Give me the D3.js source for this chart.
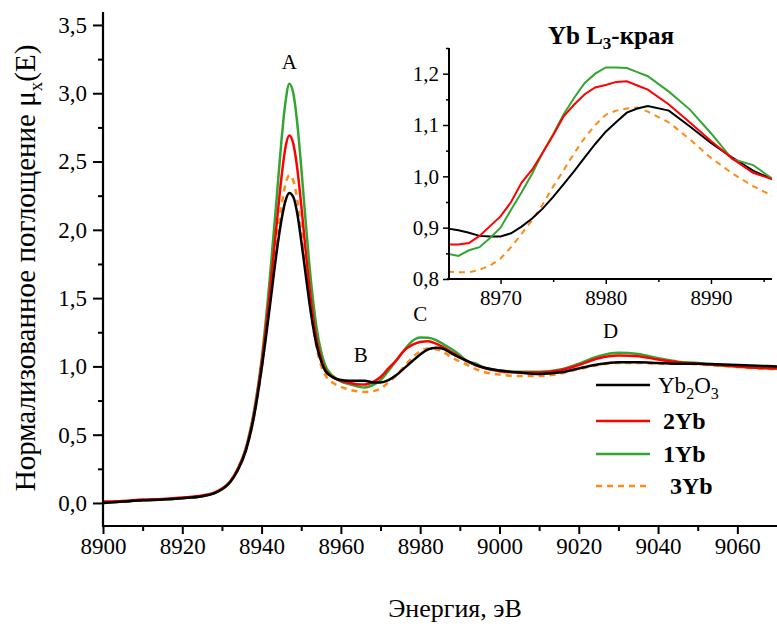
<!DOCTYPE html>
<html>
<head>
<meta charset="utf-8">
<script src="https://cdn.jsdelivr.net/npm/d3@7"></script>
<style>
  html, body { margin: 0; padding: 0; background: #fff; }
  svg { display: block; }
  svg text { font-family: "Liberation Serif", "Times New Roman", Times, "DejaVu Serif", serif !important; fill: #000; }
</style>
</head>
<body>
<svg id="chart" width="777" height="629"></svg>
<script>
// Energy grid of the XANES spectra, eV
const energy = [8900,8905,8910,8915,8920,8925,8928,8930,8932,8934,8936,8938,
  8940,8942,8944,8945,8946,8947,8948,8949,8950,8951,8952,8953,8954,8955,8956,
  8958,8960,8962,8964,8966,8968,8970,8972,8974,8976,8978,8980,8982,8984,8986,8988,8990,8992,8994,8996,
  9000,9005,9010,9015,9020,9025,9030,9035,9040,9045,9050,9055,9060,9065,9070];

const yb2o3 = [0.00,0.01,0.02,0.025,0.035,0.05, 0.07,0.10,0.15,0.24,0.38,0.62,
  0.98,1.42,1.88, 2.07,2.21,2.27,2.24,2.12,1.92,1.70,1.48,1.29,1.14,1.04,0.97,
  0.92,0.90,0.895,0.895,0.895,0.883,0.883,0.90,0.937,0.987,1.038,1.087,1.124,1.137,1.127,1.094,1.065,1.038,1.011,0.992,
  0.97,0.955,0.945,0.955,0.985,1.015,1.03,1.03,1.025,1.02,1.02,1.015,1.01,1.005,1.0];

const yb2 = [0.01,0.015,0.025,0.03,0.04,0.055, 0.075,0.105,0.155,0.25,0.39,0.64,
  1.02,1.52,2.10, 2.38,2.60,2.69,2.63,2.45,2.18,1.88,1.60,1.36,1.18,1.06,0.98,
  0.92,0.895,0.88,0.87,0.867,0.885,0.922,0.985,1.045,1.117,1.157,1.179,1.185,1.167,1.137,1.103,1.069,1.036,1.008,0.99,
  0.965,0.955,0.955,0.97,1.01,1.06,1.08,1.075,1.05,1.03,1.02,1.01,1.0,0.99,0.985];

const yb1 = [0.0,0.01,0.02,0.025,0.035,0.05, 0.07,0.10,0.15,0.25,0.40,0.66,
  1.05,1.62,2.30, 2.65,2.93,3.07,3.00,2.78,2.46,2.10,1.76,1.48,1.26,1.11,1.01,
  0.93,0.89,0.87,0.855,0.845,0.862,0.90,0.968,1.045,1.12,1.185,1.211,1.210,1.193,1.16,1.125,1.084,1.034,1.022,0.993,
  0.97,0.96,0.96,0.975,1.02,1.075,1.10,1.09,1.06,1.035,1.025,1.01,1.0,0.99,0.985];

const yb3 = [0.0,0.01,0.02,0.025,0.035,0.05, 0.07,0.10,0.15,0.24,0.38,0.62,
  0.98,1.45,1.95, 2.17,2.33,2.40,2.36,2.22,1.99,1.74,1.50,1.29,1.12,1.01,0.94,
  0.88,0.85,0.83,0.818,0.813,0.818,0.838,0.883,0.935,1.00,1.065,1.11,1.131,1.126,1.103,1.065,1.036,1.01,0.98,0.96,
  0.94,0.93,0.93,0.945,0.98,1.01,1.025,1.025,1.02,1.02,1.015,1.005,0.995,0.985,0.98];

// Close-up of the L3 white-line shoulder (peak C)
const insetEnergy = [8965,8966,8967,8968,8969,8970,8971,8972,8973,8974,8975,8976,8977,8978,8979,8980,8981,8982,8983,8984,8986,8988,8990,8992,8994,8996];
const insetYb2o3 = [0.898,0.895,0.89,0.884,0.883,0.883,0.889,0.902,0.918,0.937,0.96,0.985,1.01,1.037,1.063,1.087,1.106,1.124,1.132,1.137,1.128,1.097,1.065,1.037,1.011,0.993];
const insetYb2 = [0.867,0.867,0.870,0.884,0.903,0.922,0.95,0.988,1.013,1.046,1.08,1.117,1.14,1.16,1.173,1.178,1.184,1.185,1.177,1.169,1.14,1.105,1.069,1.035,1.007,0.993];
const insetYb1 = [0.849,0.845,0.856,0.862,0.88,0.9,0.935,0.969,1.005,1.046,1.082,1.121,1.153,1.182,1.2,1.212,1.212,1.211,1.203,1.195,1.165,1.13,1.084,1.034,1.022,0.993];
const insetYb3 = [0.814,0.813,0.813,0.818,0.826,0.84,0.862,0.888,0.915,0.945,0.98,1.012,1.045,1.075,1.1,1.12,1.128,1.132,1.134,1.126,1.105,1.072,1.036,1.006,0.981,0.96];

const seriesNames = ["Yb2O3", "2Yb", "1Yb", "3Yb"];
const seriesColors = ["#000000", "#ff0000", "#33a532", "#ff8a14"];
const xTicks = [8900,8920,8940,8960,8980,9000,9020,9040,9060];
const yTicks = [0,0.5,1.0,1.5,2.0,2.5,3.0,3.5];
const insetXTicks = [8970,8980,8990];
const insetYTicks = [0.8,0.9,1.0,1.1,1.2];
const peakLabels = [
  {t: "A", e: 8947, v: 3.18},
  {t: "B", e: 8965, v: 1.03},
  {t: "C", e: 8980, v: 1.33},
  {t: "D", e: 9028, v: 1.21}
];

const mainValues = [yb2o3, yb2, yb1, yb3];
const insetValues = [insetYb2o3, insetYb2, insetYb1, insetYb3];
const fmt = v => d3.format(".1f")(v).replace(".", ",");
const SERIF = "'Liberation Serif', 'Times New Roman', Times, 'DejaVu Serif', serif";

const svg = d3.select("#chart").style("font-family", SERIF);

// ---- main panel ----
const x = d3.scaleLinear().domain([8900, 9070]).range([103, 777]);
const y = d3.scaleLinear().domain([-0.17, 3.6]).range([526.2, 11.3]);

svg.append("clipPath").attr("id", "clipMain")
  .append("rect").attr("x", 103).attr("y", 0).attr("width", 674).attr("height", 526);

const line = d3.line().curve(d3.curveMonotoneX);

const gMain = svg.append("g").attr("clip-path", "url(#clipMain)");
[3, 2, 1, 0].forEach(i => {
  const pts = energy.map((e, k) => [x(e), y(mainValues[i][k])]);
  gMain.append("path")
    .attr("d", line(pts))
    .attr("fill", "none")
    .attr("stroke", seriesColors[i])
    .attr("stroke-width", 2.5)
    .attr("stroke-dasharray", i === 3 ? "6,5" : null)
    .attr("stroke-linejoin", "round");
});

function styleAxisText(g, size) {
  g.attr("font-family", SERIF);
  g.selectAll("text").style("font-size", size).style("font-family", SERIF);
}

// x axis (major + minor ticks)
const xAxisG = svg.append("g").attr("transform", "translate(0,526)");
xAxisG.append("g")
  .call(d3.axisBottom(x).tickValues(d3.range(8910, 9070, 20)).tickSize(5).tickFormat(""))
  .call(g => g.select(".domain").remove())
  .selectAll("line").attr("stroke-width", 2);
xAxisG.append("g")
  .call(d3.axisBottom(x).tickValues(xTicks).tickSize(8).tickPadding(4).tickFormat(d3.format("d")))
  .call(g => g.select(".domain").attr("stroke-width", 2.2).attr("d", "M103,0H777"))
  .call(g => g.selectAll("line").attr("stroke-width", 2))
  .call(g => styleAxisText(g, "23px"));

// y axis
const yAxisG = svg.append("g").attr("transform", "translate(103,0)");
yAxisG.append("g")
  .call(d3.axisLeft(y).tickValues([0.25,0.75,1.25,1.75,2.25,2.75,3.25]).tickSize(5).tickFormat(""))
  .call(g => g.select(".domain").remove())
  .selectAll("line").attr("stroke-width", 2);
yAxisG.append("g")
  .call(d3.axisLeft(y).tickValues(yTicks).tickSize(10).tickPadding(6).tickFormat(fmt))
  .call(g => g.select(".domain").attr("stroke-width", 2.2).attr("d", "M0,527V12"))
  .call(g => g.selectAll("line").attr("stroke-width", 2))
  .call(g => styleAxisText(g, "23px"));

// axis titles
svg.append("text")
  .attr("x", 455).attr("y", 617)
  .attr("text-anchor", "middle")
  .style("font-size", "26px")
  .text("Энергия, эВ");

const yTitle = svg.append("text")
  .attr("transform", "translate(35,268) rotate(-90)")
  .attr("text-anchor", "middle")
  .style("font-size", "29px");
yTitle.append("tspan").text("Нормализованное поглощение μ");
yTitle.append("tspan").attr("dy", 7).style("font-size", "19px").text("x");
yTitle.append("tspan").attr("dy", -7).text("(E)");

// peak letters
svg.append("g").selectAll("text").data(peakLabels).join("text")
  .attr("x", d => x(d.e)).attr("y", d => y(d.v))
  .attr("text-anchor", "middle")
  .style("font-size", "21px")
  .text(d => d.t);

// ---- legend ----
const legend = svg.append("g");
const legendY = [385, 421, 454, 486];
seriesNames.forEach((name, i) => {
  legend.append("line")
    .attr("x1", 596).attr("x2", 650)
    .attr("y1", legendY[i]).attr("y2", legendY[i])
    .attr("stroke", seriesColors[i]).attr("stroke-width", 2.5)
    .attr("stroke-dasharray", i === 3 ? "6,5" : null);
  const t = legend.append("text")
    .attr("x", i === 0 ? 658 : (i === 3 ? 670 : 663))
    .attr("y", legendY[i] + 8)
    .style("font-size", i === 0 ? "23px" : "24px");
  if (i === 0) {
    t.append("tspan").text("Yb");
    t.append("tspan").attr("dy", 6).style("font-size", "16px").text("2");
    t.append("tspan").attr("dy", -6).text("O");
    t.append("tspan").attr("dy", 6).style("font-size", "16px").text("3");
  } else {
    t.style("font-weight", "bold").text(name);
  }
});

// ---- inset ----
const xi = d3.scaleLinear().domain([8965.1, 8995.8]).range([449, 772]);
const yi = d3.scaleLinear().domain([0.8, 1.25]).range([279, 48]);

svg.append("clipPath").attr("id", "clipInset")
  .append("rect").attr("x", 449).attr("y", 40).attr("width", 323).attr("height", 239);

const lineLin = d3.line();
const gInset = svg.append("g").attr("clip-path", "url(#clipInset)");
[3, 0, 2, 1].forEach(i => {
  const pts = insetEnergy.map((e, k) => [xi(e), yi(insetValues[i][k])]);
  gInset.append("path")
    .attr("d", lineLin(pts))
    .attr("fill", "none")
    .attr("stroke", seriesColors[i])
    .attr("stroke-width", 2)
    .attr("stroke-dasharray", i === 3 ? "6,5" : null);
});

const ixG = svg.append("g").attr("transform", "translate(0,279)");
ixG.append("g")
  .call(d3.axisBottom(xi).tickValues([8975, 8985, 8995]).tickSize(3).tickFormat(""))
  .call(g => g.select(".domain").remove())
  .selectAll("line").attr("stroke-width", 1.5);
ixG.append("g")
  .call(d3.axisBottom(xi).tickValues(insetXTicks).tickSize(5).tickPadding(6).tickFormat(d3.format("d")))
  .call(g => g.select(".domain").attr("stroke-width", 2).attr("d", "M447,0H772"))
  .call(g => g.selectAll("line").attr("stroke-width", 1.5))
  .call(g => styleAxisText(g, "21px"));

const iyG = svg.append("g").attr("transform", "translate(449,0)");
iyG.append("g")
  .call(d3.axisLeft(yi).tickValues([0.85,0.95,1.05,1.15,1.25]).tickSize(3).tickFormat(""))
  .call(g => g.select(".domain").remove())
  .selectAll("line").attr("stroke-width", 1.5);
iyG.append("g")
  .call(d3.axisLeft(yi).tickValues(insetYTicks).tickSize(6).tickPadding(4).tickFormat(fmt))
  .call(g => g.select(".domain").attr("stroke-width", 2).attr("d", "M0,280V48"))
  .call(g => g.selectAll("line").attr("stroke-width", 1.5))
  .call(g => styleAxisText(g, "21px"));

const insetTitle = svg.append("text")
  .attr("x", 611).attr("y", 44)
  .attr("text-anchor", "middle")
  .style("font-size", "25px").style("font-weight", "bold");
insetTitle.append("tspan").text("Yb L");
insetTitle.append("tspan").attr("dy", 5).style("font-size", "17px").text("3");
insetTitle.append("tspan").attr("dy", -5).text("-края");
</script>
</body>
</html>
